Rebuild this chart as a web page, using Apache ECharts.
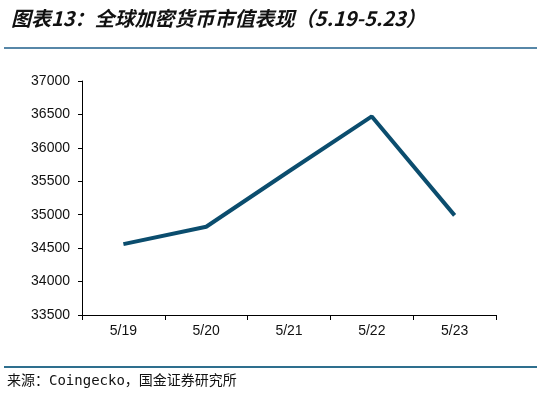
<!DOCTYPE html>
<html>
<head>
<meta charset="utf-8">
<script src="https://cdn.jsdelivr.net/npm/echarts@6/dist/echarts.min.js"></script>
<style>
  html, body { margin: 0; padding: 0; background: #fff; }
  #chart { width: 541px; height: 398px; }
</style>
</head>
<body>
<div id="chart"></div>
<script>
// 数据
var dates = ['5/19', '5/20', '5/21', '5/22', '5/23'];
var marketCap = [34560, 34820, 35650, 36470, 34990];
var yMin = 33500, yMax = 37000, yStep = 500;

var chart = echarts.init(document.getElementById('chart'));
var option = {
  backgroundColor: '#fff',
  animation: false,
  title: {
    text: '图表13：全球加密货币市值表现（5.19-5.23）',
    left: 6, top: 3,
    textStyle: {
      fontFamily: 'Noto Sans CJK SC',
      fontStyle: 'italic',
      fontWeight: 'bold',
      fontSize: 20,
      color: '#111'
    }
  },
  graphic: [
    { type: 'line', shape: { x1: 4, y1: 48, x2: 537, y2: 48 }, style: { stroke: '#1f5f8b', lineWidth: 1.5 } },
    { type: 'line', shape: { x1: 4, y1: 367, x2: 537, y2: 367 }, style: { stroke: '#2e6f8e', lineWidth: 2 } },
    { type: 'text', left: 7, top: 374,
      style: { text: '来源：Coingecko，国金证券研究所', font: '14px "DejaVu Sans Mono", "Noto Sans CJK SC"', fill: '#111' } }
  ],
  grid: { left: 82, right: 45, top: 81, bottom: 83 },
  xAxis: {
    type: 'category',
    data: dates,
    boundaryGap: true,
    axisLine: { lineStyle: { color: '#000', width: 1 } },
    axisTick: { show: true, alignWithLabel: false, length: 5, lineStyle: { color: '#000' } },
    axisLabel: { color: '#111', fontSize: 14, fontFamily: 'Liberation Sans', margin: 9 }
  },
  yAxis: {
    type: 'value',
    min: yMin, max: yMax, interval: yStep,
    axisLine: { show: true, lineStyle: { color: '#000', width: 1 } },
    axisTick: { show: true, length: 4, lineStyle: { color: '#000' } },
    splitLine: { show: false },
    axisLabel: { color: '#111', fontSize: 14, fontFamily: 'Liberation Sans', margin: 12,
      formatter: function (v) { return String(v); } }
  },
  series: [{
    type: 'line',
    data: marketCap,
    symbol: 'none',
    lineStyle: { color: '#0b4d6e', width: 4 }
  }]
};
chart.setOption(option);
</script>
</body>
</html>
